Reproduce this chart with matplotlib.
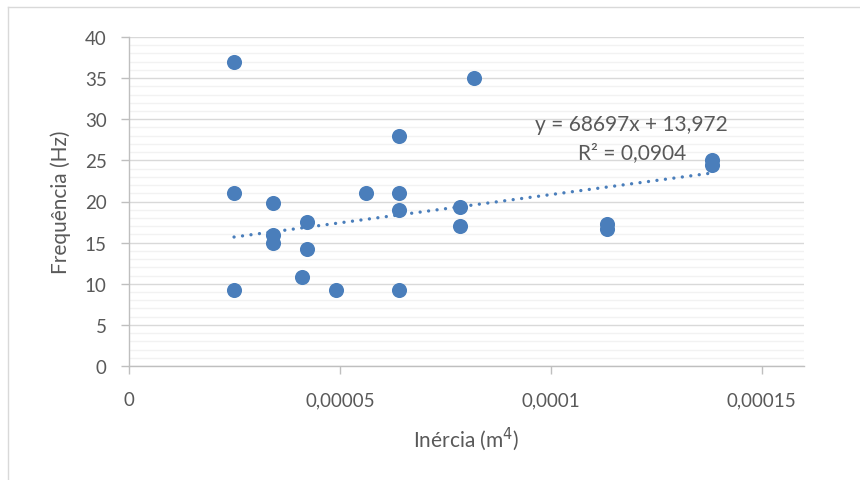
import numpy as np
import matplotlib.pyplot as plt
from matplotlib.lines import Line2D
from matplotlib.ticker import MultipleLocator

# Data
inercia = [0.0000249, 0.0000249, 0.0000249,
           0.0000341, 0.0000341, 0.0000341,
           0.0000423, 0.0000423,
           0.0000409,
           0.0000491,
           0.0000562,
           0.0000641, 0.0000641, 0.0000641, 0.0000641,
           0.0000818,
           0.0000785, 0.0000785,
           0.0001133, 0.0001133,
           0.0001382, 0.0001382]
frequencia = [37.0, 21.0, 9.3,
              19.8, 15.9, 14.9,
              17.5, 14.2,
              10.8,
              9.3,
              21.0,
              28.0, 21.0, 19.0, 9.3,
              35.0,
              19.3, 17.0,
              17.3, 16.6,
              25.0, 24.4]

# Trendline from the chart's equation
slope = 68697
intercept = 13.972
eq_line1 = "y = 68697x + 13,972"
eq_line2 = "R² = 0,0904"

x_ticks = [0, 0.00005, 0.0001, 0.00015]
x_tick_labels = ["0", "0,00005", "0,0001", "0,00015"]
y_ticks = [0, 5, 10, 15, 20, 25, 30, 35, 40]

plt.rcParams['font.family'] = ['Lato', 'DejaVu Sans']

fig = plt.figure(figsize=(8.6, 4.81), dpi=100)
ax = fig.add_axes([129 / 860, 1 - 367 / 481, 675 / 860, 329 / 481])

blue = '#4a7ebb'
ax.scatter(inercia, frequencia, s=118, color=blue, zorder=3, linewidths=0)

x_fit = np.array([min(inercia), max(inercia)])
ax.plot(x_fit, slope * x_fit + intercept, color=blue, linestyle=(0, (0.01, 2.55)),
        linewidth=2.4, dash_capstyle='round', zorder=2)

ax.text(0.0001192, 29.4, eq_line1, ha='center', va='center', fontsize=15,
        color='#595959', zorder=4)
ax.text(0.0001192, 26.0, eq_line2, ha='center', va='center', fontsize=15,
        color='#595959', zorder=4)

ax.set_xlim(0, 0.00016)
ax.set_ylim(0, 40)
ax.set_xticks(x_ticks)
ax.set_xticklabels(x_tick_labels)
ax.set_yticks(y_ticks)
ax.yaxis.set_minor_locator(MultipleLocator(1))

ax.grid(True, which='major', axis='y', color='#d9d9d9', linewidth=1.0, zorder=0)
ax.grid(True, which='minor', axis='y', color='#f2f2f2', linewidth=1.0, zorder=0)
ax.set_axisbelow(True)

for side in ['top', 'right']:
    ax.spines[side].set_visible(False)
for side in ['left', 'bottom']:
    ax.spines[side].set_color('#bfbfbf')
    ax.spines[side].set_linewidth(1.0)

ax.tick_params(axis='both', which='major', direction='out', length=6, width=1,
               color='#bfbfbf', labelcolor='#595959', labelsize=13.5)
ax.tick_params(axis='x', pad=12)
ax.tick_params(axis='y', pad=10)
ax.tick_params(axis='y', which='minor', length=0)

ax.set_xlabel('Inércia (m$^4$)', fontsize=15, color='#595959', labelpad=12)
ax.set_ylabel('Frequência (Hz)', fontsize=15, color='#595959', labelpad=10)

# faint chart-area border (left and top edges visible)
fig.add_artist(Line2D([8 / 860, 8 / 860], [0, 1 - 8 / 481], transform=fig.transFigure,
                      color='#d9d9d9', linewidth=1))
fig.add_artist(Line2D([8 / 860, 1], [1 - 8 / 481, 1 - 8 / 481], transform=fig.transFigure,
                      color='#d9d9d9', linewidth=1))

fig.savefig('out.png', dpi=100, facecolor='white')
